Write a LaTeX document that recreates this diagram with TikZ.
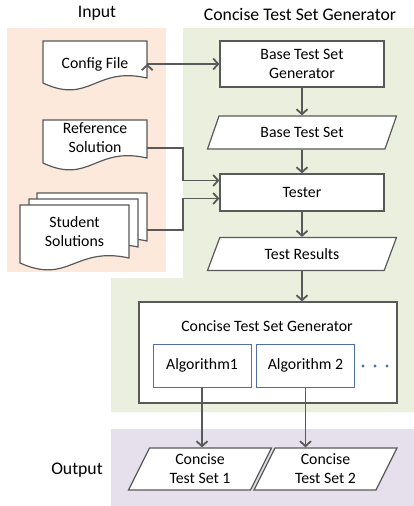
\documentclass[tikz,border=0pt]{standalone}
\usepackage{fontspec}
\setmainfont{Carlito}
\usetikzlibrary{shapes.geometric,arrows.meta}

\definecolor{inbg}{RGB}{252,233,219}
\definecolor{genbg}{RGB}{235,240,222}
\definecolor{outbg}{RGB}{229,224,236}
\definecolor{edgegray}{RGB}{89,89,89}
\definecolor{algblue}{RGB}{79,111,165}

\newcommand{\boxfont}{\fontsize{15.8}{19}\selectfont}
\newcommand{\titlefont}{\fontsize{17.7}{21}\selectfont}

% sheet with a wavy lower edge: left, top, width, height
\newcommand{\docsheet}[4]{%
  \draw[draw=edgegray,line width=1.2pt,fill=white]
    (#1,#2) -- (#1+#3,#2) -- (#1+#3,#2+#4-5)
    .. controls (#1+0.5*#3,#2+#4-17) and (#1+0.45*#3,#2+#4+22) .. (#1,#2+#4) -- cycle;}

\tikzset{
  proc/.style={rectangle,draw=edgegray,line width=1.2pt,fill=white,inner sep=0pt,align=center,font=\boxfont},
  algbox/.style={rectangle,draw=algblue,line width=1pt,fill=white,inner sep=0pt,minimum width=98pt,minimum height=43pt,font=\boxfont},
  para/.style={trapezium,trapezium stretches body,draw=edgegray,line width=1.2pt,fill=white,inner sep=0pt,align=center,font=\boxfont},
  midpara/.style={para,trapezium left angle=42,trapezium right angle=138,minimum width=189pt,minimum height=33pt},
  outpara/.style={para,trapezium left angle=55,trapezium right angle=125,minimum width=143pt,minimum height=42pt},
  doctext/.style={inner sep=0pt,align=center,font=\boxfont},
  link/.style={draw=edgegray,line width=1.8pt,-{Straight Barb[length=5pt,width=11pt]}},
  heading/.style={font=\titlefont}
}

\begin{document}
\begin{tikzpicture}[x=1pt,y=-1pt]
  \useasboundingbox (0,0) rectangle (414,506);

  % backgrounds
  \fill[inbg] (7,28) rectangle (166,272);
  \fill[genbg] (183,28) -- (414,28) -- (414,412) -- (111,412) -- (111,278) -- (183,278) -- cycle;
  \fill[outbg] (111,429) rectangle (414,506);

  \node[heading] (intitle) at (97,13) {Input};
  \node[heading] (gentitle) at (300,14) {Concise Test Set Generator};
  \node[heading] (outtitle) at (77,470) {Output};

  % input documents
  \docsheet{43}{41}{104}{42}
  \docsheet{43}{120}{104}{43}
  \docsheet{37}{193}{110}{53}
  \docsheet{29}{199}{109}{53}
  \docsheet{20}{205}{109}{58}
  \node[doctext,minimum width=104pt] (cfg) at (95,64) {Config File};
  \node[doctext,minimum width=104pt] (ref) at (95,138) {Reference\\Solution};
  \node[doctext,minimum width=109pt] (stu) at (74.5,232) {Student\\Solutions};

  % generator
  \node[proc,minimum width=164pt,minimum height=46pt] (btsg) at (302,64) {Base Test Set\\Generator};
  \node[midpara] (bts) at (302,132.5) {Base Test Set};
  \node[proc,minimum width=164pt,minimum height=37pt] (tester) at (302,192.5) {Tester};
  \node[midpara] (tres) at (302,254) {Test Results};
  \node[proc,minimum width=258pt,minimum height=101pt] (ctsg) at (268,352.5) {};
  \node[doctext] (ctsgtitle) at (267,326) {Concise Test Set Generator};
  \node[algbox] (alg1) at (202,365.5) {Algorithm1};
  \node[algbox] (alg2) at (305.5,365.5) {Algorithm 2};
  \foreach \x in {363,375,387}
    \fill[algblue] (\x,366) circle (1.6pt);

  % output
  \node[outpara] (out1) at (200,469) {Concise\\Test Set 1};
  \node[outpara] (out2) at (325.5,469) {Concise\\Test Set 2};

  \path[link]
    (cfg.east) edge (btsg.west)
    (btsg) edge (bts)
    (bts) edge (tester)
    (tester) edge (tres)
    ;
  \draw[link] ([yshift=-10pt]ref.east) -- ++(36,0) |- ([yshift=12pt]tester.west);
  \draw[link] ([xshift=18pt,yshift=2pt]stu.east) -- ++(36,0) |- ([yshift=-6pt]tester.west);
  \draw[link] (tres.south) -- (tres.south |- ctsg.north);
  \draw[link] (alg1.south) -- (alg1.south |- out1.north);
  \draw[link] (alg2.south) -- (alg2.south |- out2.north);
\end{tikzpicture}
\end{document}
